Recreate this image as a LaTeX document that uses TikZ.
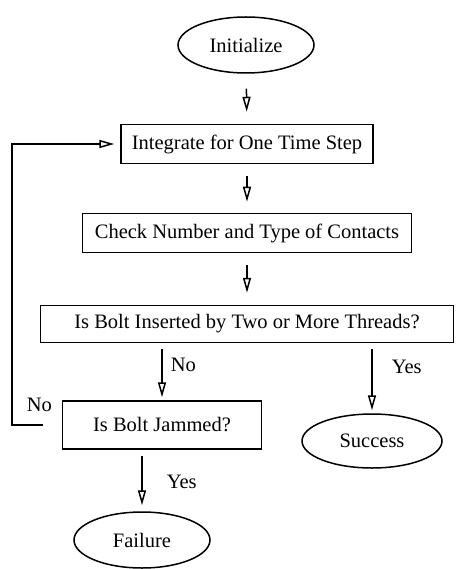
\documentclass[tikz,border=0pt]{standalone}
\usepackage{fontspec}
\setmainfont{Liberation Serif}
\usetikzlibrary{arrows.meta,shapes.geometric}
\begin{document}
\begin{tikzpicture}[x=1pt,y=-1pt, font=\fontsize{20.5}{24}\selectfont, line width=1.5pt,
 box/.style={draw, rectangle, minimum height=39pt, inner sep=0pt},
 oval/.style={draw, ellipse, inner sep=0pt},
 arr/.style={-{Triangle[open,length=15pt,width=8pt]}},
 lbl/.style={inner sep=0pt, anchor=west}]
\useasboundingbox (0,0) rectangle (467,569);
\node[oval, minimum width=136pt, minimum height=56pt] (init) at (246,45) {Initialize};
\node[box, minimum width=252pt] (integ) at (247,144) {Integrate for One Time Step};
\node[box, minimum width=329pt] (check) at (247,233) {Check Number and Type of Contacts};
\node[box, minimum width=413pt, minimum height=37pt] (thr) at (247,324) {Is Bolt Inserted by Two or More Threads?};
\node[box, minimum width=199pt, minimum height=48pt] (jam) at (162,425) {Is Bolt Jammed?};
\node[oval, minimum width=140pt, minimum height=54pt] (succ) at (372,441) {Success};
\node[oval, minimum width=136pt, minimum height=56pt] (fail) at (142,540) {Failure};
\coordinate (fb) at ([xshift=-19pt]jam.west);
\coordinate (fbc) at (12,0);
\draw[arr, shorten <=15pt, shorten >=12pt] (init) -- (integ);
\draw[arr, shorten <=12pt, shorten >=11pt] (integ) -- (check);
\draw[arr, shorten <=12pt, shorten >=12pt] (check) -- (thr);
\draw[arr, shorten <=6pt, shorten >=3pt] (thr.south -| jam.north) -- (jam.north);
\draw[arr, shorten <=6pt, shorten >=3pt] (thr.south -| succ.north) -- (succ.north);
\draw[arr, shorten <=6pt, shorten >=6pt] (jam.south -| fail.north) -- (fail.north);
\draw[arr, shorten >=6pt] (fb) -| (fbc |- integ.west) -- (integ.west);
\node[lbl] (l1) at (170,365) {No};
\node[lbl] (l2) at (391,367) {Yes};
\node[lbl] (l3) at (26,405) {No};
\node[lbl] (l4) at (166,482) {Yes};
\end{tikzpicture}
\end{document}
